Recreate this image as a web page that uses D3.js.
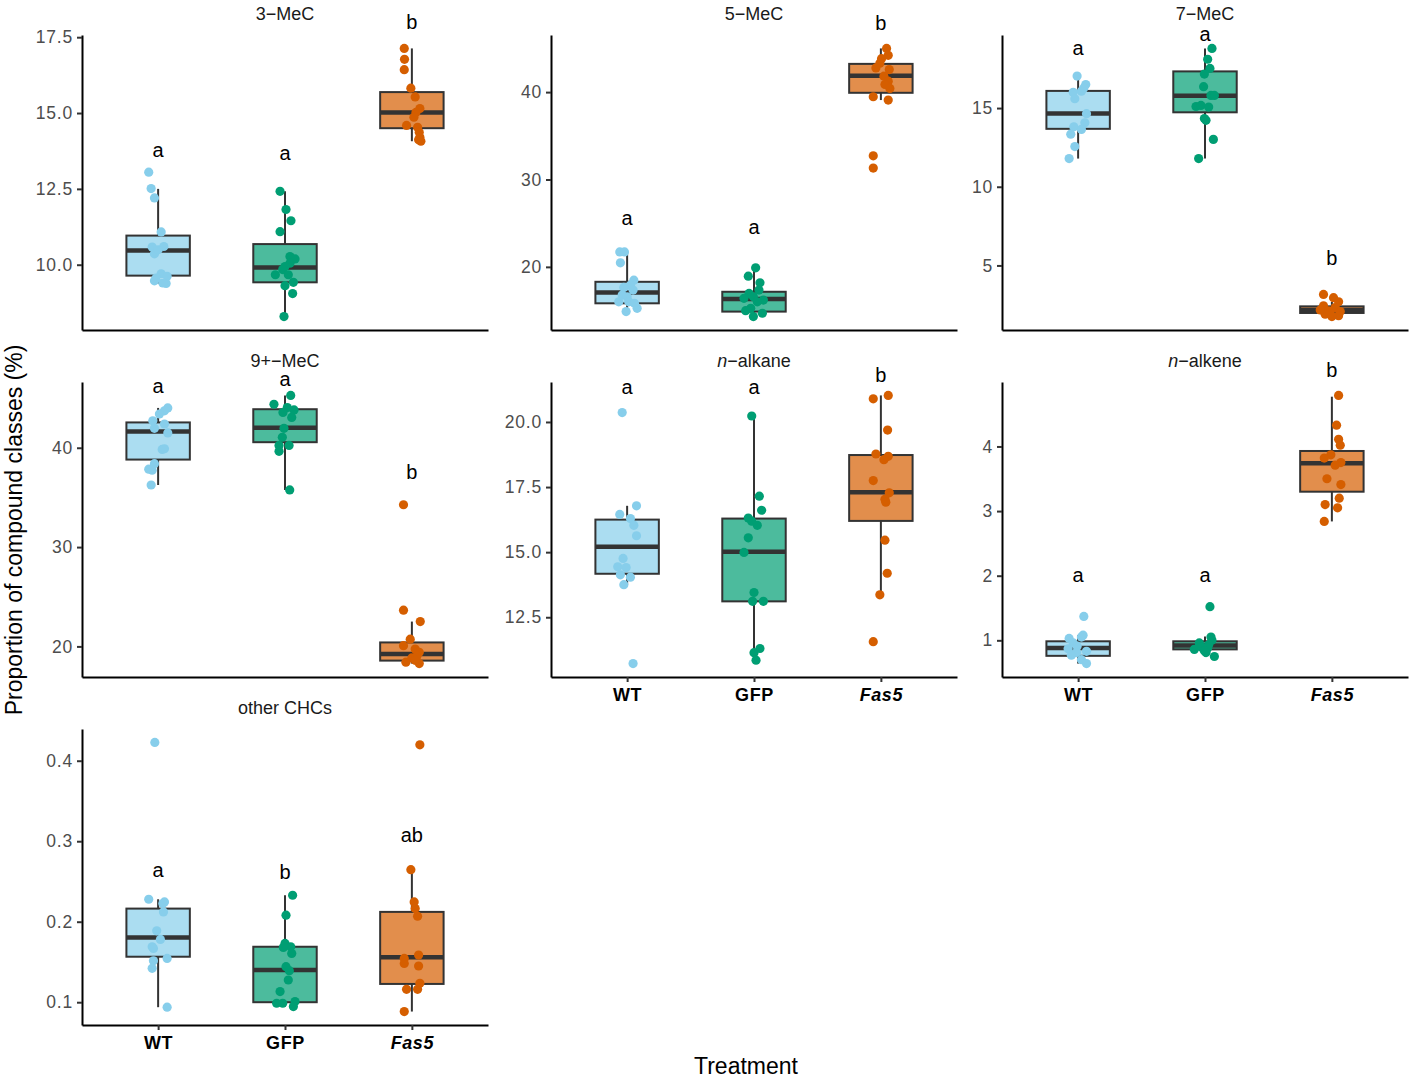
<!DOCTYPE html>
<html>
<head>
<meta charset="utf-8">
<script src="https://cdn.jsdelivr.net/npm/d3@7"></script>
<style>
body { margin: 0; background: #fff; }
text { font-family: "Liberation Sans", Arial, sans-serif; }
</style>
</head>
<body>
<script>
//Groups and their colours (Okabe-Ito like palette).
const groups = ["WT", "GFP", "Fas5"];
const groupColors = ["#87CEEB", "#009E73", "#D55E00"];

const panelTitles = ["3−MeC", "5−MeC", "7−MeC", "9+−MeC", "n−alkane", "n−alkene", "other CHCs"];

//Box stats per group: [lower whisker, q1, median, q3, upper whisker]
//Points per group: [jitter (in category units), value]
//Letters per group: [label, y value]

// 3-MeC
const mec3Boxes = [[9.38, 9.64, 10.47, 10.96, 12.5], [8.29, 9.42, 9.91, 10.68, 12.42], [14.07, 14.5, 15.02, 15.69, 17.13]];
const mec3Points = [
    [[-0.074, 13.05], [-0.055, 12.51], [-0.029, 12.2], [0.024, 11.08], [-0.047, 10.58], [0.045, 10.6], [-0.029, 10.36], [0, 10.49], [0.024, 9.7], [0.071, 9.62], [-0.029, 9.47], [0.063, 9.38], [0.037, 9.4], [-0.016, 9.56]],
    [[-0.039, 12.42], [0.008, 11.82], [0.047, 11.45], [-0.039, 11.09], [0.039, 10.27], [0.079, 10.19], [0.039, 10.05], [0, 9.94], [-0.018, 9.84], [-0.076, 9.67], [0.026, 9.67], [0.066, 9.42], [0, 9.31], [0.06, 9.05], [-0.008, 8.29]],
    [[-0.06, 17.13], [-0.058, 16.77], [-0.06, 16.43], [-0.008, 15.82], [0.026, 15.53], [0.063, 15.15], [0.032, 15.02], [0.016, 14.86], [-0.042, 14.59], [0.045, 14.53], [0.058, 14.37], [0.063, 14.2], [0.071, 14.07], [0.053, 14.12]]
];
const mec3Letters = [["a", 13.74], ["a", 13.64], ["b", 17.97]];
const mec3Ticks = [10, 12.5, 15, 17.5];

// 5-MeC
const mec5Boxes = [[14.88, 15.83, 17.08, 18.29, 21.71], [14.31, 14.88, 16.32, 17.15, 19.89], [39.09, 39.92, 41.86, 43.23, 45.0]];
const mec5Points = [
    [[-0.058, 21.71], [-0.021, 21.71], [-0.053, 20.46], [0.053, 18.48], [0.026, 17.91], [-0.026, 17.65], [0.047, 17.34], [-0.039, 16.77], [0, 16.58], [-0.066, 16.0], [0.013, 16.0], [0.058, 15.83], [0.079, 15.26], [-0.008, 14.88]],
    [[0.013, 19.89], [-0.045, 18.94], [0.047, 18.18], [0.039, 17.34], [-0.039, 16.96], [-0.005, 16.58], [0.074, 16.2], [0.026, 16.0], [-0.026, 15.26], [-0.066, 14.99], [0.066, 14.69], [-0.005, 14.31], [-0.079, 16.4]],
    [[0.045, 45.0], [0.058, 44.21], [0.005, 43.83], [-0.008, 43.3], [-0.039, 42.77], [0.066, 42.58], [0.024, 41.82], [0.058, 41.25], [0.032, 40.87], [0.071, 40.42], [-0.06, 39.47], [0.058, 39.09], [-0.06, 32.71], [-0.06, 31.31]]
];
const mec5Letters = [["a", 25.5], ["a", 24.44], ["b", 47.78]];
const mec5Ticks = [20, 30, 40];

// 7-MeC
const mec7Boxes = [[11.79, 13.68, 14.66, 16.09, 17.03], [11.79, 14.73, 15.78, 17.33, 18.79], [1.75, 1.98, 2.17, 2.4, 2.69]];
const mec7Points = [
    [[-0.008, 17.03], [0.06, 16.49], [0.045, 16.28], [-0.039, 16.0], [0.026, 16.07], [-0.026, 15.59], [0.066, 14.64], [0.053, 14.06], [-0.034, 13.81], [0.026, 13.64], [-0.058, 13.34], [-0.026, 12.55], [-0.071, 11.79]],
    [[0.055, 18.79], [0.021, 18.1], [0.039, 17.52], [-0.005, 17.16], [-0.011, 16.36], [0.047, 15.8], [0.074, 15.8], [-0.071, 15.1], [-0.032, 15.17], [0.029, 15.06], [-0.005, 14.33], [0.008, 14.22], [0.066, 13.01], [-0.05, 11.79]],
    [[-0.066, 3.16], [0.013, 2.95], [0.053, 2.69], [-0.066, 2.44], [0.026, 2.32], [-0.026, 2.11], [0.066, 2.07], [-0.053, 1.9], [0.053, 1.81], [0, 1.75], [-0.092, 2.17], [-0.013, 1.96]]
];
const mec7Letters = [["a", 18.77], ["a", 19.67], ["b", 5.42]];
const mec7Ticks = [5, 10, 15];

// 9+-MeC
const mec9Boxes = [[36.25, 38.81, 41.63, 42.55, 44.01], [35.75, 40.56, 42.02, 43.88, 45.27], [18.27, 18.57, 19.24, 20.4, 22.5]];
const mec9Points = [
    [[0.076, 44.01], [0.05, 43.72], [0.01, 43.4], [-0.042, 42.72], [0.05, 42.39], [-0.029, 41.96], [0.076, 41.49], [0.032, 39.83], [0.05, 39.9], [-0.029, 38.4], [-0.074, 37.84], [-0.047, 37.74], [-0.055, 36.25]],
    [[0.045, 45.27], [-0.087, 44.38], [0.018, 44.05], [0.071, 43.81], [-0.016, 43.55], [0.053, 43.05], [-0.008, 41.96], [-0.021, 41.06], [-0.047, 40.23], [0.032, 40.23], [-0.047, 39.64], [0.037, 35.75]],
    [[-0.066, 34.26], [-0.066, 23.65], [0.066, 22.5], [-0.013, 20.73], [-0.066, 20.07], [0.026, 19.73], [0.058, 19.4], [0.039, 19.0], [0, 18.84], [-0.047, 18.41], [0.058, 18.27], [0.026, 18.6]]
];
const mec9Letters = [["a", 46.14], ["a", 46.87], ["b", 37.48]];
const mec9Ticks = [20, 30, 40];

// n-alkane
const alkaneBoxes = [[13.75, 14.17, 15.21, 16.25, 16.78], [10.85, 13.11, 15.02, 16.29, 20.23], [13.36, 16.2, 17.3, 18.73, 21.02]];
const alkanePoints = [
    [[-0.039, 20.36], [0.074, 16.78], [-0.058, 16.45], [0.026, 16.29], [0.053, 16.03], [0.074, 15.63], [-0.032, 14.76], [-0.074, 14.44], [-0.008, 14.41], [-0.053, 14.13], [0.026, 14.04], [-0.026, 13.75], [0.047, 10.72]],
    [[-0.018, 20.23], [0.042, 17.15], [0.06, 16.61], [-0.045, 16.31], [-0.018, 16.19], [0.026, 16.03], [-0.045, 15.55], [-0.079, 14.99], [0, 13.45], [-0.011, 13.11], [0.074, 13.11], [0.047, 11.3], [0, 11.14], [0.016, 10.85]],
    [[0.058, 21.02], [-0.06, 20.89], [0.053, 19.69], [-0.039, 18.77], [0.058, 18.68], [0.024, 18.55], [-0.06, 17.75], [0.066, 17.28], [0.032, 17.03], [0.039, 16.92], [0.032, 15.46], [0.05, 14.19], [-0.008, 13.36], [-0.06, 11.56]]
];
const alkaneLetters = [["a", 21.31], ["a", 21.31], ["b", 21.78]];
const alkaneTicks = [12.5, 15, 17.5, 20];

// n-alkene
const alkeneBoxes = [[0.64, 0.76, 0.88, 0.985, 1.08], [0.75, 0.86, 0.92, 0.985, 1.06], [2.84, 3.3, 3.74, 3.93, 4.77]];
const alkenePoints = [
    [[0.045, 1.37], [0.039, 1.08], [0.026, 1.05], [-0.071, 1.03], [-0.039, 0.96], [-0.079, 0.87], [-0.008, 0.91], [0.066, 0.83], [-0.013, 0.81], [-0.053, 0.77], [0.026, 0.7], [0.066, 0.64]],
    [[0.039, 1.52], [0.047, 1.05], [0.055, 1.0], [-0.045, 0.96], [0.029, 0.93], [-0.024, 0.89], [0.021, 0.88], [-0.084, 0.86], [-0.005, 0.84], [0.008, 0.81], [0.074, 0.75]],
    [[0.053, 4.79], [0.037, 4.33], [0.053, 4.11], [0.066, 4.02], [-0.008, 3.87], [-0.06, 3.82], [0.071, 3.75], [0.026, 3.71], [-0.039, 3.5], [0.071, 3.41], [0.058, 3.2], [-0.053, 3.1], [0.045, 3.05], [-0.06, 2.84]]
];
const alkeneLetters = [["a", 2.0], ["a", 2.0], ["b", 5.16]];
const alkeneTicks = [1, 2, 3, 4];

// other CHCs
const otherBoxes = [[0.0938, 0.1565, 0.1804, 0.2163, 0.2279], [0.0946, 0.1, 0.14, 0.1689, 0.2329], [0.0884, 0.1227, 0.1557, 0.2122, 0.2646]];
const otherPoints = [
    [[-0.026, 0.4227], [-0.074, 0.2279], [0.05, 0.2246], [0.037, 0.2225], [0.042, 0.2122], [-0.011, 0.1887], [0.018, 0.178], [-0.047, 0.1689], [-0.037, 0.1668], [0.071, 0.1544], [-0.037, 0.1515], [-0.047, 0.1421], [0.071, 0.0938]],
    [[0.06, 0.2329], [0.008, 0.2081], [0, 0.173], [0.045, 0.1689], [-0.013, 0.168], [0.053, 0.1606], [0.008, 0.1441], [0.034, 0.1392], [0.026, 0.1276], [-0.039, 0.1132], [-0.066, 0.0987], [-0.018, 0.0987], [0.079, 0.1008], [0.066, 0.0946]],
    [[0.063, 0.4198], [-0.008, 0.2646], [0.018, 0.2246], [0.026, 0.2163], [0.045, 0.2068], [0.053, 0.1586], [-0.06, 0.1544], [-0.06, 0.1482], [0.053, 0.145], [0.063, 0.1235], [0.045, 0.116], [-0.042, 0.116], [-0.06, 0.0884]]
];
const otherLetters = [["a", 0.2626], ["b", 0.261], ["ab", 0.3059]];
const otherTicks = [0.1, 0.2, 0.3, 0.4];

//Facet grid: 3 columns, 3 rows (panel pixel bounds).
const colX = [[82, 488], [551, 957], [1002, 1408]];
const rowY = [[35, 330], [382, 677], [729, 1025]];

const panels = [
    {boxes: mec3Boxes, points: mec3Points, letters: mec3Letters, ticks: mec3Ticks, fmt: ".1f", col: 0, row: 0, xlab: false},
    {boxes: mec5Boxes, points: mec5Points, letters: mec5Letters, ticks: mec5Ticks, fmt: "d", col: 1, row: 0, xlab: false},
    {boxes: mec7Boxes, points: mec7Points, letters: mec7Letters, ticks: mec7Ticks, fmt: "d", col: 2, row: 0, xlab: false},
    {boxes: mec9Boxes, points: mec9Points, letters: mec9Letters, ticks: mec9Ticks, fmt: "d", col: 0, row: 1, xlab: false},
    {boxes: alkaneBoxes, points: alkanePoints, letters: alkaneLetters, ticks: alkaneTicks, fmt: ".1f", col: 1, row: 1, xlab: true},
    {boxes: alkeneBoxes, points: alkenePoints, letters: alkeneLetters, ticks: alkeneTicks, fmt: "d", col: 2, row: 1, xlab: true},
    {boxes: otherBoxes, points: otherPoints, letters: otherLetters, ticks: otherTicks, fmt: ".1f", col: 0, row: 2, xlab: true}
];

const svg = d3.select("body").append("svg")
    .attr("width", 1416)
    .attr("height", 1080);

panels.forEach(function(p, i) {
    const [x0, x1] = colX[p.col];
    const [y0, y1] = rowY[p.row];

    //ggplot style ranges: data extent (points + whiskers) with 5% expansion
    const allVals = p.points.flat().map(d => d[1]).concat(p.boxes.flat());
    const [mn, mx] = d3.extent(allVals);
    const pad = (mx - mn) * 0.05;

    const x = d3.scalePoint().domain(groups).range([x0, x1]).padding(0.6);
    const y = d3.scaleLinear().domain([mn - pad, mx + pad]).range([y1, y0]);
    const step = x.step();
    const bw = step * 0.5;

    const g = svg.append("g");

    //facet title
    const title = g.append("text")
        .attr("x", (x0 + x1) / 2)
        .attr("y", y0 - 15)
        .attr("text-anchor", "middle")
        .style("font-size", "18px")
        .attr("fill", "#1a1a1a");
    const t = panelTitles[i];
    if (t.startsWith("n−")) {
        title.append("tspan").style("font-style", "italic").text("n");
        title.append("tspan").text(t.slice(1));
    } else {
        title.text(t);
    }

    //y axis
    const yAxis = g.append("g")
        .attr("transform", "translate(" + x0 + ",0)")
        .call(d3.axisLeft(y).tickValues(p.ticks).tickFormat(d3.format(p.fmt)).tickSize(5).tickSizeOuter(0).tickPadding(4));
    yAxis.select(".domain").attr("stroke", "#000").attr("stroke-width", 2);
    yAxis.selectAll(".tick line").attr("stroke", "#333").attr("stroke-width", 2);
    yAxis.selectAll(".tick text")
        .attr("fill", "#4d4d4d")
        .style("font-size", "17.5px")
        .style("letter-spacing", "0.8px")
        .style("font-family", "'Liberation Sans', Arial, sans-serif");

    //x axis (labels only on the bottom panel of each column)
    const xAxis = g.append("g")
        .attr("transform", "translate(0," + y1 + ")")
        .call(d3.axisBottom(x).tickSize(p.xlab ? 5 : 0).tickSizeOuter(0).tickPadding(6));
    xAxis.select(".domain").attr("stroke", "#000").attr("stroke-width", 2);
    xAxis.selectAll(".tick line").attr("stroke", "#333").attr("stroke-width", 2);
    xAxis.selectAll(".tick text")
        .attr("fill", "#000")
        .style("font-size", "18px")
        .style("font-weight", "bold")
        .style("letter-spacing", "0.6px")
        .style("font-style", d => d === "Fas5" ? "italic" : "normal")
        .style("font-family", "'Liberation Sans', Arial, sans-serif")
        .style("display", p.xlab ? null : "none");

    //boxplots
    groups.forEach(function(grp, k) {
        const b = p.boxes[k];
        const cx = x(grp);
        const bg = g.append("g");
        bg.append("line")
            .attr("x1", cx).attr("x2", cx)
            .attr("y1", y(b[4])).attr("y2", y(b[3]))
            .attr("stroke", "#333").attr("stroke-width", 2);
        bg.append("line")
            .attr("x1", cx).attr("x2", cx)
            .attr("y1", y(b[1])).attr("y2", y(b[0]))
            .attr("stroke", "#333").attr("stroke-width", 2);
        bg.append("rect")
            .attr("x", cx - bw / 2)
            .attr("y", y(b[3]))
            .attr("width", bw)
            .attr("height", y(b[1]) - y(b[3]))
            .attr("fill", groupColors[k])
            .attr("fill-opacity", 0.7)
            .attr("stroke", "#333")
            .attr("stroke-width", 2);
        bg.append("line")
            .attr("x1", cx - bw / 2).attr("x2", cx + bw / 2)
            .attr("y1", y(b[2])).attr("y2", y(b[2]))
            .attr("stroke", "#333").attr("stroke-width", 4.5);

        //jittered points
        bg.selectAll("circle")
            .data(p.points[k])
            .join("circle")
            .attr("cx", d => cx + d[0] * step)
            .attr("cy", d => y(d[1]))
            .attr("r", 4.6)
            .attr("fill", groupColors[k]);

        //significance letters
        const l = p.letters[k];
        g.append("text")
            .attr("x", cx)
            .attr("y", y(l[1]))
            .attr("dy", "0.3em")
            .attr("text-anchor", "middle")
            .style("font-size", "20px")
            .attr("fill", "#000")
            .text(l[0]);
    });
});

//axis titles
svg.append("text")
    .attr("transform", "translate(22,530) rotate(-90)")
    .attr("text-anchor", "middle")
    .style("font-size", "23px")
    .attr("fill", "#000")
    .text("Proportion of compound classes (%)");

svg.append("text")
    .attr("x", 746)
    .attr("y", 1074)
    .attr("text-anchor", "middle")
    .style("font-size", "23px")
    .attr("fill", "#000")
    .text("Treatment");
</script>
</body>
</html>
